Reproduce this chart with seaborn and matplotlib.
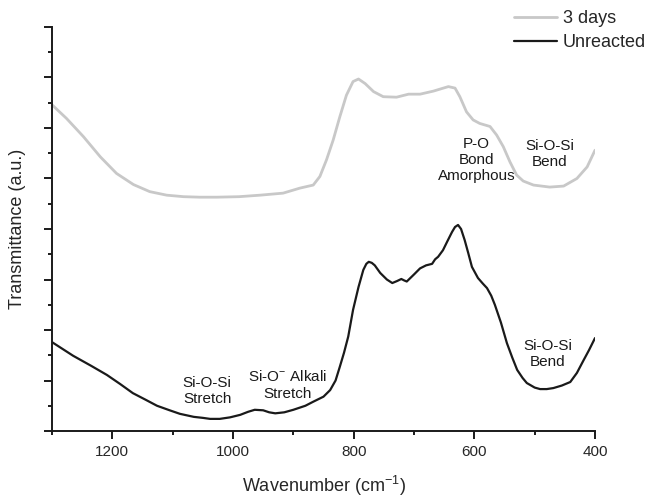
import numpy as np
import pandas as pd
import matplotlib
matplotlib.use("Agg")
import matplotlib.pyplot as plt
from matplotlib.ticker import MultipleLocator, NullFormatter
from matplotlib.lines import Line2D
import seaborn as sns

# ---------------- data ----------------
series_names = ["3 days", "Unreacted"]

wn_unreacted = [1300, 1265, 1235, 1209, 1187, 1166, 1145, 1126, 1105, 1088, 1065, 1050, 1038,
                1022, 1005, 988, 975, 964, 950, 940, 930, 915, 900, 880, 867, 850, 839, 830,
                823, 816, 809, 801, 792, 784, 779, 775, 770, 765, 756, 745, 736, 728, 721, 716,
                712, 700, 690, 680, 670, 665, 660, 652, 645, 637, 632, 627, 622, 616, 610, 604,
                594, 586, 579, 572, 566, 556, 546, 537, 529, 520, 513, 500, 491, 480, 469, 455,
                441, 430, 419, 410, 400]
tr_unreacted = [1.76, 1.49, 1.29, 1.11, 0.93, 0.75, 0.62, 0.50, 0.41, 0.34, 0.28, 0.26, 0.24,
                0.24, 0.27, 0.32, 0.38, 0.42, 0.41, 0.37, 0.35, 0.37, 0.42, 0.50, 0.58, 0.68, 0.81, 1.00,
                1.27, 1.55, 1.87, 2.40, 2.85, 3.19, 3.31, 3.35, 3.33, 3.28, 3.13, 3.00, 2.93, 2.97, 3.01, 2.98,
                2.96, 3.10, 3.22, 3.28, 3.31, 3.40, 3.45, 3.58, 3.75, 3.94, 4.04, 4.08, 4.00, 3.78, 3.52, 3.25,
                3.03, 2.92, 2.83, 2.68, 2.50, 2.15, 1.74, 1.45, 1.21, 1.05, 0.95, 0.86, 0.83, 0.83, 0.85, 0.90,
                0.97, 1.15, 1.40, 1.60, 1.84]

wn_3days = [1300, 1276, 1248, 1220, 1193, 1165, 1138, 1110, 1082, 1055, 1027, 990, 955, 917,
            889, 867, 856, 845, 834, 823, 812, 801, 792, 781, 767, 751, 729, 709, 690, 668,
            643, 632, 624, 613, 602, 591, 574, 563, 552, 541, 530, 519, 502, 475, 452, 430,
            413, 400]
tr_3days = [6.46, 6.19, 5.83, 5.43, 5.10, 4.88, 4.74, 4.67, 4.64, 4.63, 4.63, 4.64, 4.67, 4.71,
            4.81, 4.87, 5.04, 5.37, 5.76, 6.22, 6.65, 6.92, 6.97, 6.88, 6.72, 6.62, 6.61, 6.67, 6.67, 6.73,
            6.82, 6.79, 6.62, 6.32, 6.16, 6.09, 6.03, 5.86, 5.63, 5.33, 5.07, 4.95, 4.87, 4.83, 4.85, 5.00,
            5.23, 5.56]

xticks = [1200, 1000, 800, 600, 400]

annot_text = ["Si-O-Si\nStretch", "Si-O$^{-}$ Alkali\nStretch", "P-O\nBond\nAmorphous",
              "Si-O-Si\nBend", "Si-O-Si\nBend"]
annot_x = [1043, 910, 596, 475, 478]
annot_y = [0.79, 0.91, 5.37, 5.49, 1.52]

# ---------------- plot ----------------
sns.set_style("ticks")
plt.rcParams["font.family"] = ["Liberation Sans", "DejaVu Sans"]
plt.rcParams["mathtext.fontset"] = "custom"
plt.rcParams["mathtext.rm"] = "Liberation Sans"
plt.rcParams["mathtext.default"] = "regular"

df = pd.concat([
    pd.DataFrame({"wn": wn_3days, "tr": tr_3days, "sample": series_names[0]}),
    pd.DataFrame({"wn": wn_unreacted, "tr": tr_unreacted, "sample": series_names[1]}),
])

fig = plt.figure(figsize=(6.52, 5.00), dpi=100)
ax = fig.add_axes([52 / 652, 69 / 500, (595 - 52) / 652, (431 - 27) / 500])

sns.lineplot(data=df, x="wn", y="tr", hue="sample", hue_order=series_names,
             palette={"3 days": "#c8c8c8", "Unreacted": "#1a1a1a"},
             estimator=None, ax=ax, legend=False)
for line, lw in zip(ax.lines, [2.0, 1.6]):
    line.set_linewidth(lw)
    line.set_solid_joinstyle("round")
    line.set_solid_capstyle("round")

ax.set_xlim(1300, 400)
ax.set_ylim(0, 8)
ax.set_xticks(xticks)
ax.xaxis.set_minor_locator(MultipleLocator(100))
ax.yaxis.set_major_locator(MultipleLocator(1))
ax.yaxis.set_minor_locator(MultipleLocator(0.5))
ax.yaxis.set_major_formatter(NullFormatter())

for side in ["top", "right"]:
    ax.spines[side].set_visible(False)
for side in ["left", "bottom"]:
    ax.spines[side].set_linewidth(1.4)
    ax.spines[side].set_color("#1a1a1a")

ax.tick_params(which="major", length=6, width=1.4, color="#1a1a1a", labelsize=11, pad=4)
ax.tick_params(which="minor", length=3, width=1.4, color="#1a1a1a")

ax.set_xlabel("Wavenumber (cm$^{-1}$)", fontsize=13, labelpad=11)
ax.set_ylabel("Transmittance (a.u.)", fontsize=13, labelpad=9)

for t, x, y in zip(annot_text, annot_x, annot_y):
    ax.text(x, y, t, ha="center", va="center", fontsize=11, color="#1a1a1a", linespacing=1.2)

handles = [Line2D([], [], color="#c8c8c8", lw=2.0), Line2D([], [], color="#1a1a1a", lw=1.6)]
fig.legend(handles, series_names, loc="upper left", bbox_to_anchor=(514 / 652, 1 - 10 / 500),
           frameon=False, fontsize=13, handlelength=2.4, handletextpad=0.3,
           labelspacing=0.4, borderpad=0, borderaxespad=0)

fig.savefig("out.png", dpi=100)
